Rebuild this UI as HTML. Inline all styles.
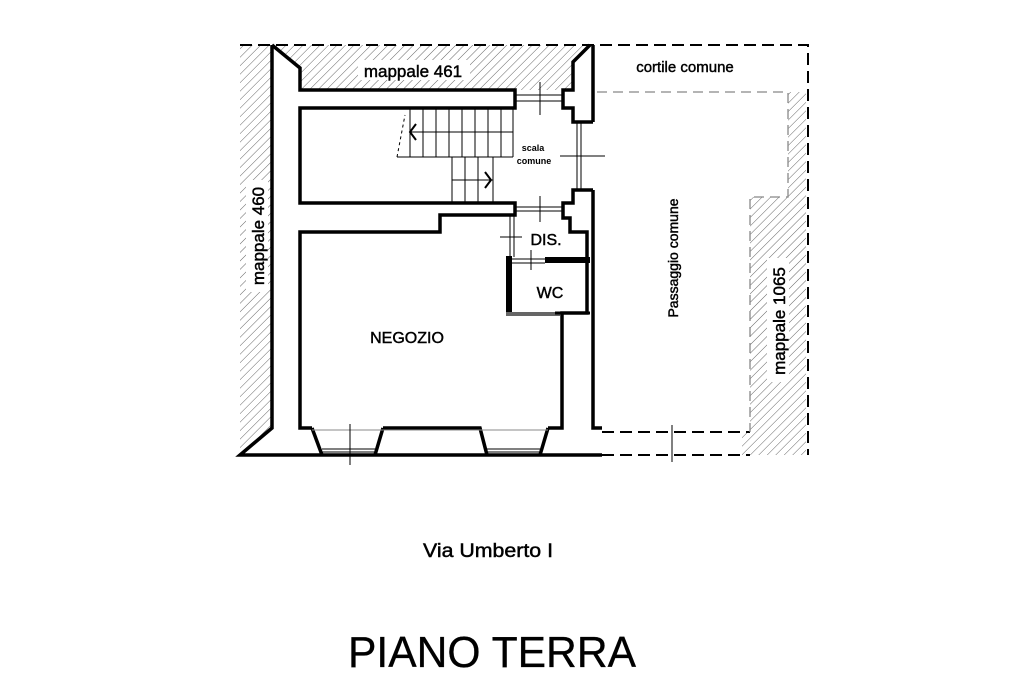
<!DOCTYPE html>
<html><head><meta charset="utf-8"><style>
html,body{margin:0;padding:0;background:#fff;}
svg{display:block;}
text{font-family:"Liberation Sans",sans-serif;fill:#000;stroke:#000;stroke-width:0.45;}
</style></head><body>
<svg width="1024" height="682" viewBox="0 0 1024 682" xmlns="http://www.w3.org/2000/svg">
<defs>
<pattern id="h" patternUnits="userSpaceOnUse" width="6" height="6" patternTransform="rotate(45)">
<line x1="0" y1="0" x2="0" y2="6" stroke="#666" stroke-width="1"/>
</pattern>
</defs>
<polygon points="240,45 271,45 271,428 240,455" fill="url(#h)"/>
<polygon points="272,45 592,45 573,62 573,90 300,90 300,68" fill="url(#h)"/>
<polygon points="788,92 806,92 806,455 742,455 742,432 750,432 750,197 788,197" fill="url(#h)"/>
<rect x="358" y="60" width="112" height="20" fill="#fff"/>
<rect x="246" y="180" width="22" height="112" fill="#fff"/>
<rect x="767" y="258" width="22" height="124" fill="#fff"/>

<g fill="none" stroke="#000" stroke-width="3.5" stroke-linejoin="miter">
<polyline points="272,45 272,428 240,455 602,455"/>
<polyline points="272,45 300,68 300,90 515,90 515,108 300,108 300,203 515,203 515,215 440,215 440,232 300,232 300,428 312,428"/>
<polyline points="590,45 573,62 573,90 563,90 563,108 573,108 573,122 593,122"/>
<polyline points="593,45 593,122"/>
<polyline points="593,190 573,190 573,203 563,203 563,218 570,218 570,232 587,232 587,313 562,313 562,428 548,428"/>
<polyline points="593,190 593,428 602,428"/>
<polyline points="312,428 322,455"/>
<polyline points="383,428 375,455"/>
<polyline points="383,428 480,428 487,455"/>
<polyline points="548,428 540,455"/>
</g>
<g stroke="#000" stroke-width="1">
<line x1="322" y1="449" x2="375" y2="449"/><line x1="322" y1="452" x2="375" y2="452"/>
<line x1="487" y1="449" x2="540" y2="449"/><line x1="487" y1="452" x2="540" y2="452"/>
<line x1="312" y1="430" x2="548" y2="430" stroke="#888"/>
<line x1="350" y1="424" x2="350" y2="465"/>
<line x1="515" y1="95" x2="563" y2="95"/><line x1="515" y1="101" x2="563" y2="101"/>
<line x1="540" y1="82" x2="540" y2="115"/>
<line x1="515" y1="207" x2="563" y2="207"/><line x1="515" y1="211" x2="563" y2="211"/>
<line x1="540" y1="196" x2="540" y2="222"/>
<line x1="577" y1="122" x2="577" y2="190"/><line x1="581" y1="122" x2="581" y2="190"/>
<line x1="560" y1="156" x2="605" y2="156"/>
<line x1="397" y1="157" x2="513" y2="157"/>
<line x1="410" y1="132" x2="513" y2="132"/>
<line x1="452" y1="180" x2="493" y2="180"/>
</g>
<g stroke="#000" stroke-width="1">
<line x1="410" y1="108" x2="410" y2="157"/><line x1="423" y1="108" x2="423" y2="157"/><line x1="436" y1="108" x2="436" y2="157"/><line x1="449" y1="108" x2="449" y2="157"/><line x1="462" y1="108" x2="462" y2="157"/><line x1="475" y1="108" x2="475" y2="157"/><line x1="488" y1="108" x2="488" y2="157"/><line x1="501" y1="108" x2="501" y2="157"/><line x1="513" y1="108" x2="513" y2="157"/>
<line x1="452" y1="157" x2="452" y2="203"/><line x1="465" y1="157" x2="465" y2="203"/><line x1="478" y1="157" x2="478" y2="203"/><line x1="493" y1="157" x2="493" y2="203"/>
<line x1="397" y1="157" x2="405" y2="115" stroke-dasharray="3,3"/>
<polyline points="416,124 410,132 416,140" fill="none" stroke-width="2"/>
<polyline points="485,172 491,180 485,188" fill="none" stroke-width="2"/>
<line x1="510" y1="215" x2="510" y2="257"/><line x1="514" y1="215" x2="514" y2="257"/>
<line x1="500" y1="237" x2="522" y2="237"/>
<line x1="512" y1="259" x2="545" y2="259"/><line x1="512" y1="263" x2="545" y2="263"/>
<line x1="531" y1="250" x2="531" y2="270"/>
</g>
<rect x="506" y="256" width="6" height="58" fill="#000"/>
<rect x="506" y="312" width="54" height="4" fill="#666"/>
<rect x="545" y="257" width="45" height="6" fill="#000"/>
<line x1="555" y1="313" x2="590" y2="313" stroke="#000" stroke-width="3"/>

<g fill="none" stroke="#000" stroke-width="2" stroke-dasharray="12,6">
<polyline points="240,45 808,45 808,455"/>
<line x1="602" y1="432" x2="750" y2="432"/>
<line x1="602" y1="455" x2="750" y2="455"/>
</g>
<g fill="none" stroke="#888" stroke-width="1.3" stroke-dasharray="10,6">
<polyline points="597,92 788,92 788,197 750,197 750,432"/>
</g>
<line x1="672" y1="425" x2="672" y2="462" stroke="#000" stroke-width="1"/>

<text x="413" y="77" font-size="17" text-anchor="middle">mappale 461</text>
<text x="685" y="72" font-size="15" text-anchor="middle">cortile comune</text>
<text transform="translate(264,236) rotate(-90)" font-size="17" text-anchor="middle">mappale 460</text>
<text transform="translate(678,258) rotate(-90)" font-size="14" text-anchor="middle">Passaggio comune</text>
<text transform="translate(785,321) rotate(-90)" font-size="17" text-anchor="middle">mappale 1065</text>
<text x="533" y="151" font-size="9" font-weight="bold" text-anchor="middle" style="stroke-width:0">scala</text>
<text x="534" y="164" font-size="9" font-weight="bold" text-anchor="middle" style="stroke-width:0">comune</text>
<text x="407" y="343" font-size="16" text-anchor="middle">NEGOZIO</text>
<text x="546" y="245" font-size="16" text-anchor="middle">DIS.</text>
<text x="550" y="298" font-size="16" text-anchor="middle">WC</text>
<text x="488" y="557" font-size="19" text-anchor="middle" textLength="130" lengthAdjust="spacingAndGlyphs">Via Umberto I</text>
<text x="492" y="667" font-size="44" text-anchor="middle" textLength="288" lengthAdjust="spacingAndGlyphs" style="stroke-width:0.3">PIANO TERRA</text>
</svg>
</body></html>
